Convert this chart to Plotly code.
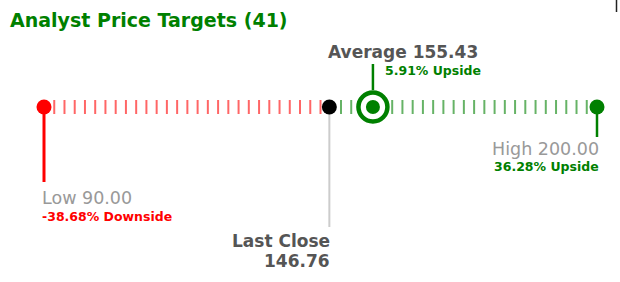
import numpy as np
import plotly.graph_objects as go

# ---- data ----
title_text = "Analyst Price Targets (41)"
n_analysts = 41
low_target = 90.00
high_target = 200.00
avg_target = 155.43
last_close = 146.76
low_pct = -38.68
avg_pct = 5.91
high_pct = 36.28

GREEN = "#008000"
RED = "#ff0000"
DARK = "#555555"
LIGHT = "#999999"
FONT = "DejaVu Sans, Arial, sans-serif"

LINE_Y = 107  # y of the track (pixel-like axis units)

fig = go.Figure()

# dashed track ticks (uniform grid between low and high)
ticks = np.linspace(low_target, high_target, 55)
red_t = ticks[ticks < last_close]
green_t = ticks[ticks > last_close]
fig.add_trace(go.Scatter(x=red_t, y=[LINE_Y] * len(red_t), mode="markers",
                         marker=dict(symbol="line-ns", size=10,
                                     line=dict(color="rgba(255,0,0,0.6)", width=2)),
                         hoverinfo="skip"))
fig.add_trace(go.Scatter(x=green_t, y=[LINE_Y] * len(green_t), mode="markers",
                         marker=dict(symbol="line-ns", size=10,
                                     line=dict(color="rgba(0,128,0,0.6)", width=2)),
                         hoverinfo="skip"))

# stems
def stem(xv, y0, y1, color, width):
    fig.add_trace(go.Scatter(x=[xv, xv], y=[y0, y1], mode="lines",
                             line=dict(color=color, width=width), hoverinfo="skip"))

stem(low_target, LINE_Y, 182, RED, 3)
stem(last_close, LINE_Y, 227, "#cccccc", 2)
stem(high_target, LINE_Y, 137, GREEN, 2.5)
stem(avg_target, LINE_Y - 17, 64, GREEN, 2.5)

# average ring
fig.add_trace(go.Scatter(x=[avg_target], y=[LINE_Y], mode="markers", opacity=1,
                         marker=dict(symbol="circle", size=29, color="white", opacity=1,
                                     line=dict(color=GREEN, width=4.5)),
                         hoverinfo="skip"))
# dots
dot_x = [low_target, last_close, avg_target, high_target]
dot_colors = [RED, "#000000", GREEN, GREEN]
dot_sizes = [15, 15, 14, 15]
for xv, c, s in zip(dot_x, dot_colors, dot_sizes):
    fig.add_trace(go.Scatter(x=[xv], y=[LINE_Y], mode="markers", opacity=1,
                             marker=dict(symbol="circle", size=s, color=c, opacity=1,
                                         line=dict(width=0)),
                             hoverinfo="skip"))

def label(text, xv, xshift, yc, size, color, bold, anchor):
    fig.add_annotation(x=xv, y=yc, xref="x", yref="y", text=(f"<b>{text}</b>" if bold else text),
                       showarrow=False, xanchor=anchor, yanchor="middle", xshift=xshift,
                       borderpad=0, font=dict(family=FONT, size=size, color=color))

label(f"Average {avg_target:.2f}", avg_target, -46, 52, 17, DARK, True, "left")
label(f"{avg_pct:.2f}% Upside", avg_target, 11, 70.6, 12.5, GREEN, True, "left")
label(f"Low {low_target:.2f}", low_target, -3, 198, 17.5, LIGHT, False, "left")
label(f"{low_pct:.2f}% Downside", low_target, -3, 216.6, 12.5, RED, True, "left")
label("Last Close", last_close, 2, 241, 17, DARK, True, "right")
label(f"{last_close:.2f}", last_close, 2, 261, 17, DARK, True, "right")
label(f"High {high_target:.2f}", high_target, 3, 149, 17.5, LIGHT, False, "right")
label(f"{high_pct:.2f}% Upside", high_target, 3, 166, 12.5, GREEN, True, "right")

# title
fig.add_annotation(x=9 / 620, y=20.4, xref="paper", yref="y", text=f"<b>{title_text}</b>",
                   showarrow=False, xanchor="left", yanchor="middle", borderpad=0,
                   font=dict(family=FONT, size=19, color=GREEN))

# small dark mark at top right of reference
fig.add_shape(type="line", xref="paper", yref="y", x0=616.5 / 620, x1=616.5 / 620, y0=0, y1=12,
              line=dict(color="#222222", width=1.5))

px_per_unit = 553 / (high_target - low_target)
x_lo = low_target - 44 / px_per_unit
x_hi = high_target + 23 / px_per_unit

fig.update_layout(
    width=620, height=282, margin=dict(l=0, r=0, t=0, b=0),
    paper_bgcolor="white", plot_bgcolor="white", showlegend=False,
    hovermode=False,
    xaxis=dict(range=[x_lo, x_hi], visible=False, fixedrange=True),
    yaxis=dict(range=[282, 0], visible=False, fixedrange=True),
)

fig.write_html("out.html", config={"displayModeBar": False})
